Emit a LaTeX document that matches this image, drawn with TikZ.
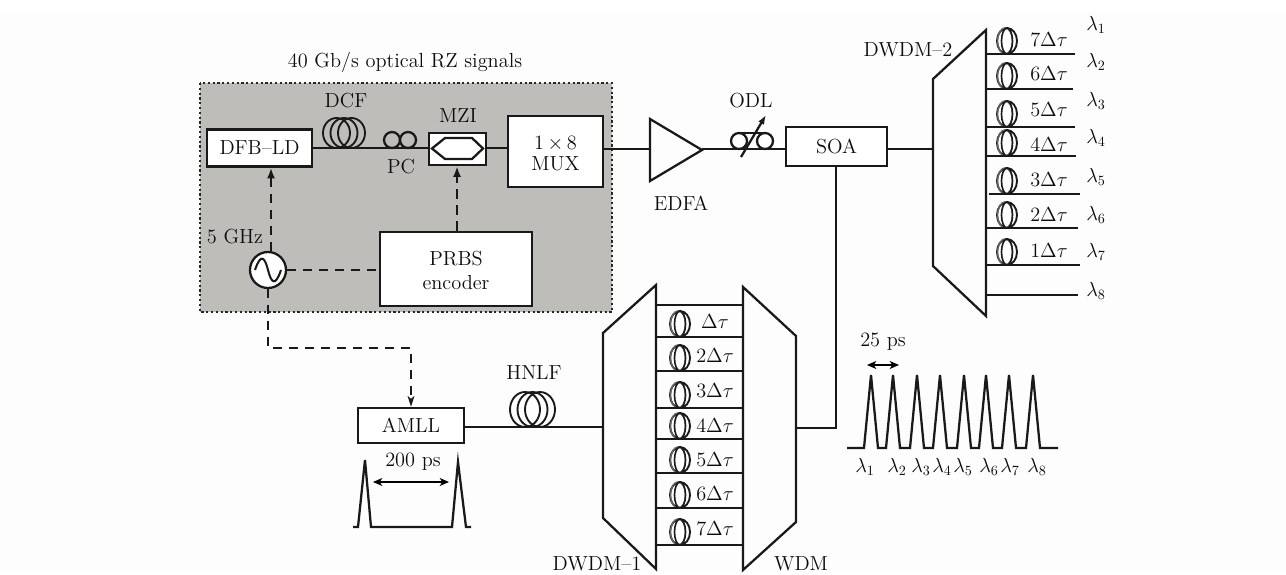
\documentclass[tikz,border=0pt]{standalone}
\usetikzlibrary{arrows.meta}
\definecolor{panelgrey}{HTML}{BFBDBA}
\definecolor{paper}{HTML}{FDFDFD}
\newcommand{\smallcoil}[2]{%
  \draw[coilline,line width=1.4pt] (#1,#2-13) ellipse [x radius=10,y radius=13];
  \draw[coilline,draw=black!60,line width=1pt] (#1-2,#2-13) ellipse [x radius=7.5,y radius=13];
  \draw[coilline,line width=1.2pt] (#1,#2-13) ellipse [x radius=5.5,y radius=13];
}
\newcommand{\bigcoil}[5]{% x-left, x-step, y-bottom, x radius, y radius
  \foreach \k in {0,1,2}{
    \draw[coilline] ({#1+\k*#2+#4},#3-#5) ellipse [x radius=#4,y radius=#5];
  }
}
\tikzset{
  x=0.75pt,y=-0.75pt,
  every node/.style={font=\Large,text=black!95},
  fibre/.style={line width=1.7pt,draw=black!90},
  coilline/.style={line width=1.4pt,draw=black!90},
  outline/.style={line width=1.7pt,draw=black!90,line join=miter},
  box/.style 2 args={draw=black!90,fill=white,line width=1.7pt,scale=1.06,minimum width=#1*0.75pt/1.06,minimum height=#2*0.75pt/1.06,inner sep=0pt,align=center},
  elec/.style={line width=1.7pt,draw=black!90,dash pattern=on 7pt off 5pt},
  tipA/.tip={Latex[length=8pt,width=6pt]},
  tipB/.tip={Stealth[length=8pt,width=5pt,inset=2pt]},
  tipC/.tip={Stealth[length=7pt,width=6pt,inset=2pt]},
  lab/.style={inner sep=0pt,scale=1.06},
}
\begin{document}
\begin{tikzpicture}
\useasboundingbox (0,0) rectangle (1286,575);
\fill[paper] (0,12) rectangle (1286,570);
% panel
\draw[fill=panelgrey,draw=black!85,line width=1.6pt,dotted] (200,83) rectangle (612,312);
\node[lab] (title) at (405,62) {40 Gb/s optical RZ signals};

% boxes
\node[box={105}{37}] (dfb) at (259.5,148) {DFB--LD};
\node[box={57}{32}] (mzi) at (457.5,149) {};
\node[box={95}{71}] (mux) at (555.5,151.5) {\rule{0pt}{12pt}$1\,{\times}\,8$\\[-3pt]MUX};
\node[box={152}{74}] (prbs) at (456,269) {\rule{0pt}{12pt}PRBS\\[-1pt]encoder};
\node[draw=black!90,fill=white,line width=1.7pt,circle,minimum size=27pt,inner sep=0pt] (osc) at (268,270) {};
\draw[line width=1.5pt,draw=black!90] (255,270) .. controls (261,252) and (265,258) .. (268,270) .. controls (271,282) and (275,288) .. (281,270);
\node[box={101}{39}] (soa) at (836.5,146.5) {SOA};
\node[box={106}{35}] (amll) at (411,425.5) {AMLL};

% MZI inner
\draw[outline] (432,148.5) -- (445,138) -- (472,138) -- (483,148.5) -- (472,159) -- (445,159) -- cycle;

% polygons and free ends
\coordinate (edfaA) at (650,149);
\coordinate (edfaB) at (702,149);
\coordinate (d2in) at (933,149);
\coordinate (d1in) at (603,427);
\coordinate (wout) at (796,428);
\coordinate (elbow1) at (836,428);
\coordinate (dashA) at (268,348);
\coordinate (dashB) at (411,348);
\coordinate (cdfb) at (271,200);
\coordinate (cmzi) at (457,200);
\draw[outline] (650,119) -- (650,181) -- (702,150) -- cycle;
\draw[outline] (986,30) -- (933,79) -- (933,266) -- (986,316) -- cycle;
\draw[outline] (656,285) -- (603,333) -- (603,518) -- (656,569) -- cycle;
\draw[outline] (743,287) -- (796,336) -- (796,522) -- (743,570) -- cycle;

% fibres
\draw[fibre] (dfb.east) -- (dfb.east -| mzi.west);
\draw[fibre] (mzi.east |- dfb.east) -- (mux.west |- dfb.east);
\draw[fibre] (mux.east |- edfaA) -- (edfaA);
\draw[fibre] (edfaB) -- (edfaB -| soa.west);
\draw[fibre] (edfaB -| soa.east) -- (d2in);
\draw[fibre] (amll.east |- d1in) -- (d1in);
\draw[fibre] (wout) -- (elbow1) -- (soa.south -| elbow1);

% electrical
\draw[elec,-{tipA}] (osc.north -| cdfb) -- (dfb.south -| cdfb);
\draw[elec,-{tipA}] (prbs.north -| cmzi) -- (mzi.south -| cmzi);
\draw[elec] (osc.east) -- (osc.east -| prbs.west);
\draw[elec,-{tipB}] (osc.south) -- (dashA) -- (dashB) -- (amll.north -| dashB);

% coils and controllers
\bigcoil{323}{7.5}{148}{13.5}{15}
\bigcoil{510}{7.5}{427}{15}{17.5}
\draw[coilline,line width=1.7pt] (392,140) circle [radius=8];
\draw[coilline,line width=1.7pt] (408,140) circle [radius=8];
\draw[outline] (739,133) -- (765,133);
\draw[coilline,line width=1.7pt] (739,141) circle [radius=8];
\draw[coilline,line width=1.7pt] (765,141) circle [radius=8];
\draw[outline,-{Latex[length=7pt,width=5pt]}] (741,157) -- (766,115);

% DWDM-1 rungs
\foreach \y/\t/\ly in {337/$\Delta\tau$/322,371/$2\Delta\tau$/356,408/$3\Delta\tau$/391,439/$4\Delta\tau$/426,473/$5\Delta\tau$/460,508/$6\Delta\tau$/494,545/$7\Delta\tau$/529}{
  \smallcoil{680}{\y}
  \node[lab] at (715,\ly) {\t};
}
\foreach \y in {305,337,371,408,439,473,508,545}{
  \draw[fibre] (656,\y) -- (743,\y);
}

% DWDM-2 rungs
\foreach \y/\t/\ly/\xe/\xs in {54/$7\Delta\tau$/40/1075/986,89/$6\Delta\tau$/74/1073/986,127/$5\Delta\tau$/110/1075/986,156/$4\Delta\tau$/145/1076/986,194/$3\Delta\tau$/180/1080/989,228/$2\Delta\tau$/215/1078/986,265/$1\Delta\tau$/251/1080/986}{
  \smallcoil{1007}{\y}
  \node[lab] at (1049,\ly) {\t};
  \draw[fibre] (\xs,\y) -- (\xe,\y);
}
\draw[fibre] (986,295) -- (1078,295);
\foreach \i/\y in {1/25,2/62,3/101,4/138,5/177,6/215,7/252,8/291}{
  \node[lab] (r\i) at (1096,\y) {$\lambda_{\i}$};
}

% labels
\node[lab] (tDCF) at (346,101) {DCF};
\node[lab] (tPC) at (401,167) {PC};
\node[lab] (tMZI) at (458,116) {MZI};
\node[lab] (tGHz) at (235,237) {5 GHz};
\node[lab] (tEDFA) at (681,203) {EDFA};
\node[lab] (tODL) at (751,101) {ODL};
\node[lab] (tD2) at (908,50) {DWDM--2};
\node[lab] (tD1) at (597,564) {DWDM--1};
\node[lab] (tW) at (801,564) {WDM};
\node[lab] (tH) at (534,373) {HNLF};
\node[lab] (t200) at (413,462) {200 ps};
\node[lab] (t25) at (883,342) {25 ps};

% pulses
\draw[outline] (353,527) -- (358,527) -- (365,460) -- (371,527) -- (452,527) -- (458,462) -- (466,527) -- (471,527);
\draw[line width=0.9pt,{tipC}-{tipC}] (373,482) -- (449,482);
\draw[outline] (847,448) -- (864,448)
  \foreach \p in {871,893,917,940,964,986,1009,1033}{ -- (\p-7,448) -- (\p,375) -- (\p+7,448) } -- (1058,448);
\draw[line width=0.9pt,{tipC}-{tipC}] (867,365) -- (899,365);
\foreach \i/\x in {1/865,2/897,3/921,4/942,5/963,6/989,7/1010,8/1037}{
  \node[lab] (p\i) at (\x,467) {$\lambda_{\i}$};
}
\end{tikzpicture}
\end{document}
